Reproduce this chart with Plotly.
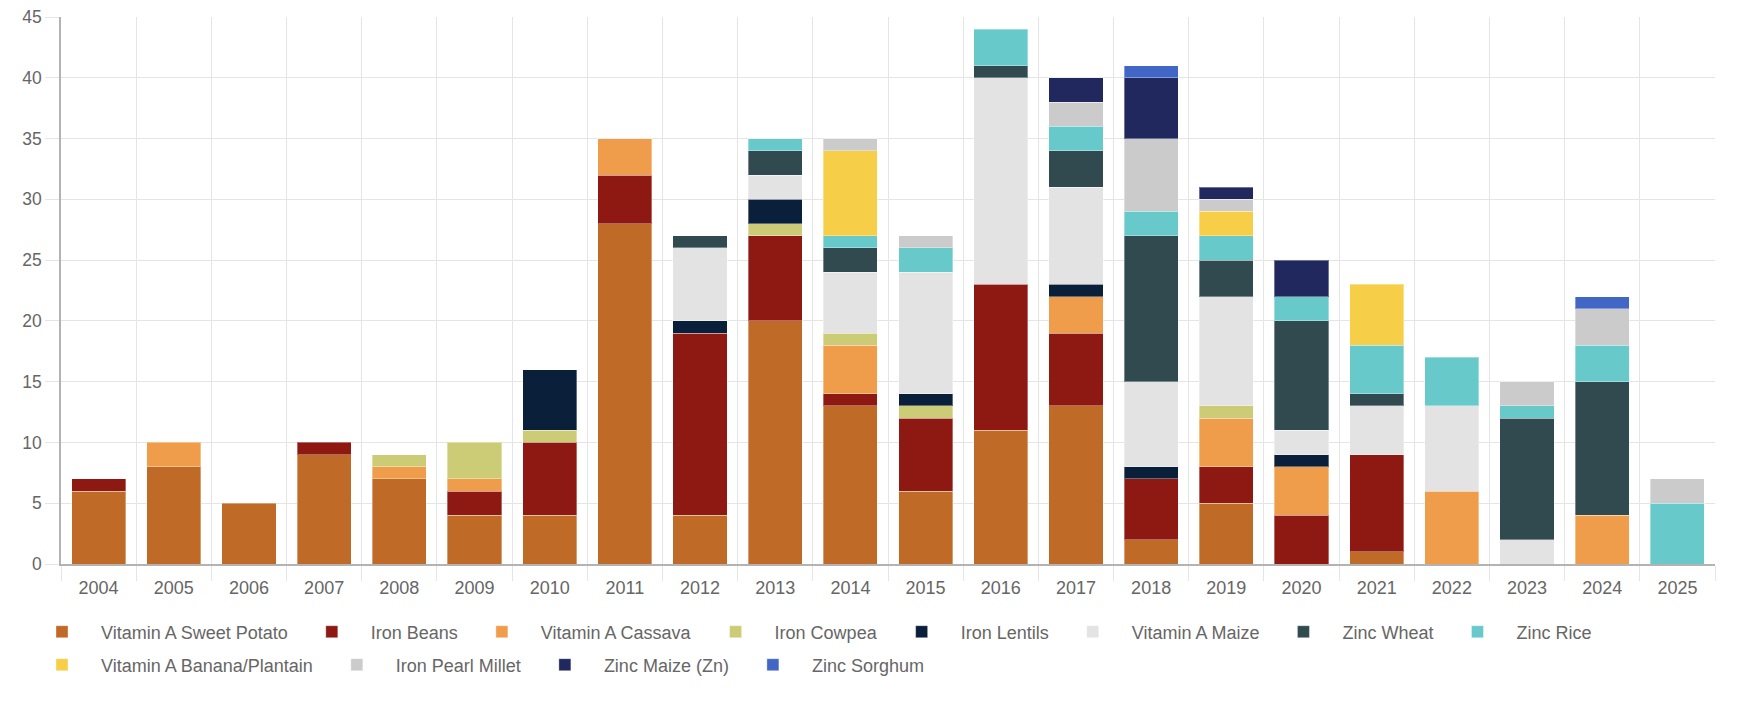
import plotly.graph_objects as go

years = [str(y) for y in range(2004, 2026)]

series_names = [
    "Vitamin A Sweet Potato", "Iron Beans", "Vitamin A Cassava", "Iron Cowpea",
    "Iron Lentils", "Vitamin A Maize", "Zinc Wheat", "Zinc Rice",
    "Vitamin A Banana/Plantain", "Iron Pearl Millet", "Zinc Maize (Zn)", "Zinc Sorghum",
]

#                        2004 05 06 07 08 09 10  11  12  13  14  15  16  17  18  19  20  21  22  23  24  25
vitamin_a_sweet_potato = [6, 8, 5, 9, 7, 4, 4, 28, 4, 20, 13, 6, 11, 13, 2, 5, 0, 1, 0, 0, 0, 0]
iron_beans             = [1, 0, 0, 1, 0, 2, 6, 4, 15, 7, 1, 6, 12, 6, 5, 3, 4, 8, 0, 0, 0, 0]
vitamin_a_cassava      = [0, 2, 0, 0, 1, 1, 0, 3, 0, 0, 4, 0, 0, 3, 0, 4, 4, 0, 6, 0, 4, 0]
iron_cowpea            = [0, 0, 0, 0, 1, 3, 1, 0, 0, 1, 1, 1, 0, 0, 0, 1, 0, 0, 0, 0, 0, 0]
iron_lentils           = [0, 0, 0, 0, 0, 0, 5, 0, 1, 2, 0, 1, 0, 1, 1, 0, 1, 0, 0, 0, 0, 0]
vitamin_a_maize        = [0, 0, 0, 0, 0, 0, 0, 0, 6, 2, 5, 10, 17, 8, 7, 9, 2, 4, 7, 2, 0, 0]
zinc_wheat             = [0, 0, 0, 0, 0, 0, 0, 0, 1, 2, 2, 0, 1, 3, 12, 3, 9, 1, 0, 10, 11, 0]
zinc_rice              = [0, 0, 0, 0, 0, 0, 0, 0, 0, 1, 1, 2, 3, 2, 2, 2, 2, 4, 4, 1, 3, 5]
vitamin_a_banana       = [0, 0, 0, 0, 0, 0, 0, 0, 0, 0, 7, 0, 0, 0, 0, 2, 0, 5, 0, 0, 0, 0]
iron_pearl_millet      = [0, 0, 0, 0, 0, 0, 0, 0, 0, 0, 1, 1, 0, 2, 6, 1, 0, 0, 0, 2, 3, 2]
zinc_maize             = [0, 0, 0, 0, 0, 0, 0, 0, 0, 0, 0, 0, 0, 2, 5, 1, 3, 0, 0, 0, 0, 0]
zinc_sorghum           = [0, 0, 0, 0, 0, 0, 0, 0, 0, 0, 0, 0, 0, 0, 1, 0, 0, 0, 0, 0, 1, 0]

series_values = [
    vitamin_a_sweet_potato, iron_beans, vitamin_a_cassava, iron_cowpea,
    iron_lentils, vitamin_a_maize, zinc_wheat, zinc_rice,
    vitamin_a_banana, iron_pearl_millet, zinc_maize, zinc_sorghum,
]

colors = [
    "#c06a27", "#8e1912", "#f09d4b", "#cccc77",
    "#0a1f3a", "#e3e3e3", "#314a50", "#67c9c9",
    "#f7ce48", "#cbcbcb", "#20285e", "#4166c6",
]

y_ticks = [0, 5, 10, 15, 20, 25, 30, 35, 40, 45]

# first 8 series in the first legend row, the rest in the second
legend_row = ["legend"] * 8 + ["legend2"] * 4

fig = go.Figure()
for name, vals, col, lg in zip(series_names, series_values, colors, legend_row):
    fig.add_trace(go.Bar(
        x=years,
        y=[v if v else None for v in vals],
        name=name,
        legend=lg,
        marker=dict(color=col, line=dict(width=1, color="rgba(255,255,255,0.35)")),
    ))

FONT = "Liberation Sans, Arial, Helvetica, sans-serif"
OFF = 8                      # page body margin of the html page
W, H = 1754 - OFF, 704 - OFF
# target plot area in page pixels: x 61..1715, y 17..564
L, T = 61 - OFF, 17 - OFF
R, B = W - (1715 - OFF), H - (564 - OFF)
PW, PH = W - L - R, H - T - B

def px_x(page_x):
    return (page_x - OFF - L) / PW

def px_y(page_y):
    return (H - B - (page_y - OFF)) / PH

legend_common = dict(
    orientation="h",
    xanchor="left",
    yanchor="middle",
    font=dict(family=FONT, size=18, color="#666666"),
    itemwidth=68,
    itemclick=False,
    itemdoubleclick=False,
    traceorder="normal",
    bgcolor="rgba(0,0,0,0)",
    borderwidth=0,
)

fig.update_layout(
    width=W, height=H,
    barmode="stack",
    bargap=0.28,
    plot_bgcolor="white",
    paper_bgcolor="white",
    margin=dict(l=L, r=R, t=T, b=B, pad=0, autoexpand=False),
    font=dict(family=FONT, size=18, color="#666666"),
    showlegend=True,
    legend=dict(x=px_x(23), y=px_y(632), **legend_common),
    legend2=dict(x=px_x(23), y=px_y(665), **legend_common),
    xaxis=dict(
        type="category",
        categoryorder="array",
        categoryarray=years,
        tickson="boundaries",
        ticks="outside",
        ticklen=15,
        tickcolor="#e5e5e5",
        tickwidth=1,
        ticklabelstandoff=7,
        ticklabeloverflow="allow",
        showgrid=True,
        gridcolor="#e5e5e5",
        gridwidth=1,
        showline=True,
        linecolor="#b3b3b3",
        linewidth=1.5,
        tickfont=dict(family=FONT, size=18, color="#666666"),
        fixedrange=True,
    ),
    yaxis=dict(
        range=[0, 45],
        tickvals=y_ticks,
        ticks="outside",
        ticklen=14,
        tickcolor="#e5e5e5",
        ticklabeloverflow="allow",
        showgrid=True,
        gridcolor="#e5e5e5",
        gridwidth=1,
        zeroline=False,
        showline=True,
        linecolor="#b3b3b3",
        linewidth=1.5,
        tickfont=dict(family=FONT, size=17.5, color="#666666"),
        fixedrange=True,
    ),
)

fig.write_html("out.html")
